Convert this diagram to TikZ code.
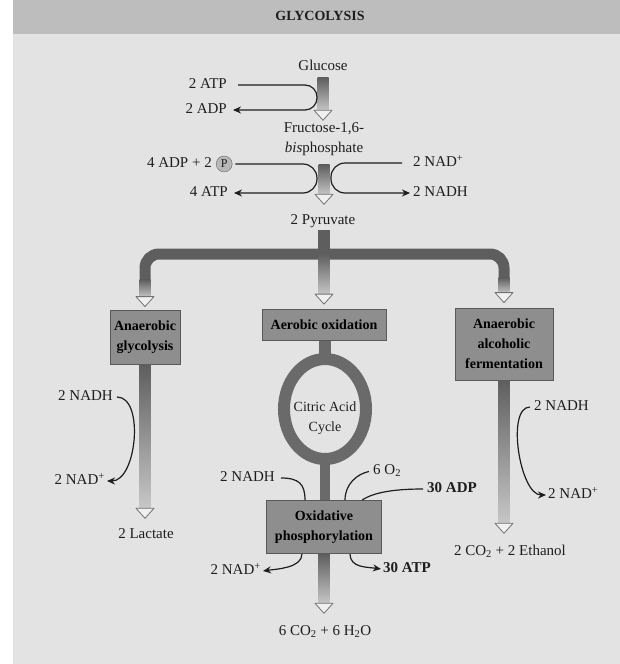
\documentclass[tikz,border=0pt]{standalone}
\usepackage{fontspec}
\setmainfont{Liberation Serif}
\usepackage{tikz,xcolor}
\usetikzlibrary{arrows.meta,positioning,calc}
\definecolor{bgGray}{HTML}{E3E3E3}
\definecolor{bandGray}{HTML}{BDBDBD}
\definecolor{barDark}{HTML}{5E5E5E}
\definecolor{barLight}{HTML}{C8C8C8}
\definecolor{boxGray}{HTML}{8E8E8E}
\definecolor{ringGray}{HTML}{6A6A6A}
\definecolor{ink}{HTML}{1E1E1E}
\tikzstyle{txt} = [text=ink, inner sep=2pt, font=\fontsize{15}{20}\selectfont]
\tikzstyle{lbl} = [txt, text height=10pt, text depth=3pt]
\tikzstyle{stage} = [draw=black!65, fill=boxGray, line width=0.8pt, text=black, align=center, inner sep=2pt, font=\fontsize{14}{20}\selectfont\bfseries]
\tikzstyle{react} = [draw=ink, line width=1.2pt, -{Stealth[length=8pt,width=7pt]}]
\tikzstyle{branch} = [draw=barDark, line width=11pt, rounded corners=14pt]
\tikzstyle{headline} = [draw=black!55, fill=black!6, line width=0.8pt, line join=round]
% shaded pathway arrow from #1 down to the tip #2
\newcommand{\flowbar}[2]{%
  \path #1 coordinate (fa) #2 coordinate (fb);
  \shade[top color=barDark, bottom color=barLight] ($(fa)+(-5.5,0)$) rectangle ($(fa|-fb)+(5.5,-9)$);
  \draw[headline] ($(fa|-fb)+(-9,-10)$) -- (fa|-fb) -- ($(fa|-fb)+(9,-10)$) -- cycle;
}

\begin{document}
\begin{tikzpicture}[x=1pt,y=-1pt]
    \useasboundingbox (0,0) rectangle (620,664);
    \fill[white] (0,0) rectangle (620,664);
    \fill[bgGray] (13,0) rectangle (620,664);
    \fill[bandGray] (13,0) rectangle (620,34);

    % create the nodes
    \node (title)[txt, font=\fontsize{14}{20}\selectfont\bfseries] at (320,16) {GLYCOLYSIS};
    \node (glu)[lbl] at (323,67) {Glucose};
    \node (atp)[lbl, anchor=east] at (229,85) {2 ATP};
    \node (adp)[lbl, anchor=east] at (229,110) {2 ADP};
    \node (fru)[txt, align=center] at (324,139) {Fructose-1,6-\\\textit{bis}phosphate};
    \node (adpp)[lbl, anchor=east] at (214,164) {4 ADP + 2};
    \node (phos)[right = 2pt of adpp, circle, draw=black!60, fill=black!28, inner sep=0pt, minimum size=16pt, text=ink, font=\fontsize{12}{12}\selectfont] {P};
    \node (atp4)[lbl, anchor=east] at (230,193) {4 ATP};
    \node (nadp)[lbl, anchor=west] at (411,163) {2 NAD\textsuperscript{+}};
    \node (nadh)[lbl, anchor=west] at (411,193) {2 NADH};
    \node (pyr)[lbl] at (323,221) {2 Pyruvate};
    \coordinate (fork) at (324,254);

    \node (gly)[stage, minimum width=70pt, minimum height=54pt] at (145,337) {Anaerobic\\glycolysis};
    \node (aer)[stage, minimum width=124pt, minimum height=31pt] at (324,325) {Aerobic oxidation};
    \node (fer)[stage, minimum width=98pt, minimum height=72pt] at (504,344) {Anaerobic\\alcoholic\\fermentation};
    \node (tca)[txt, align=center, font=\fontsize{14}{20}\selectfont] at (325,418) {Citric Acid\\Cycle};
    \node (ox)[stage, minimum width=115pt, minimum height=53pt] at (324,527) {Oxidative\\phosphorylation};

    \node (nadhL)[lbl, anchor=east] at (115,397) {2 NADH};
    \node (nadL)[lbl, anchor=east] at (107,481) {2 NAD\textsuperscript{+}};
    \node (lac)[lbl] at (146,535) {2 Lactate};
    \node (nadhR)[lbl, anchor=west] at (532,407) {2 NADH};
    \node (nadR)[lbl, anchor=west] at (546,495) {2 NAD\textsuperscript{+}};
    \node (eth)[lbl] at (510,552) {2 CO\textsubscript{2} + 2 Ethanol};
    \node (nadhM)[lbl, anchor=east] at (277,478) {2 NADH};
    \node (o2)[lbl, anchor=west] at (371,471) {6 O\textsubscript{2}};
    \node (adp30)[lbl, anchor=west] at (425,489) {\bfseries 30 ADP};
    \node (nadM)[lbl, anchor=east] at (263,571) {2 NAD\textsuperscript{+}};
    \node (atp30)[lbl, anchor=west] at (381,569) {\bfseries 30 ATP};
    \node (co2)[lbl] at (325,632) {6 CO\textsubscript{2} + 6 H\textsubscript{2}O};

    % main pathway
    \flowbar{($(glu.south)+(0,2)$)}{(fru.north)}
    \flowbar{($(fru.south)+(0,7)$)}{($(pyr.north)+(0,-8)$)}
    \fill[barDark] ($(pyr.south)+(-5.5,0)$) rectangle ($(fork)+(5.5,0)$);
    \draw[branch] ($(gly.north)+(0,-30)$) |- (fork) -| ($(fer.north)+(0,-30)$);
    \flowbar{($(gly.north)+(0,-30)$)}{($(gly.north)+(0,-3)$)}
    \flowbar{(fork)}{($(aer.north)+(0,-5)$)}
    \flowbar{($(fer.north)+(0,-30)$)}{($(fer.north)+(0,-5)$)}
    \flowbar{(gly.south)}{($(lac.north)+(0,-8)$)}
    \flowbar{(fer.south)}{($(eth.north)+(0,-10)$)}
    \fill[ringGray] ($(aer.south)+(-5.5,0)$) rectangle ($(tca)+(5.5,-59)$);
    \fill[ringGray] ($(tca)+(-5.5,41)$) rectangle ($(ox.north)+(5.5,0)$);
    \draw[ringGray, line width=12pt] ($(tca)+(0,-9)$) ellipse [x radius=41, y radius=50];
    \flowbar{(ox.south)}{($(co2.north)+(0,-10)$)}

    % connect the nodes
    \draw[react, shorten <=9pt, shorten >=4pt, rounded corners=12pt] (atp.east) -- ($(atp.east -| glu.south)+(-6,0)$) |- (adp.east);
    \draw[react, shorten <=3pt, shorten >=4pt, rounded corners=14pt] (phos.east) -- ($(phos.east -| fru.south)+(-7,0)$) |- (atp4.east);
    \draw[react, shorten <=9pt, shorten >=1pt, rounded corners=14pt] (nadp.west) -- ($(nadp.west -| fru.south)+(7,0)$) |- (nadh.west);
    \draw[react, shorten <=2pt] (nadhL.east) to[out=0, in=0, looseness=0.9] (nadL.east);
    \draw[react, shorten <=2pt] (nadhR.west) to[out=180, in=180, looseness=0.75] (nadR.west);
    \draw[react, -, shorten <=4pt] (nadhM.east) .. controls +(22,0) and +(0,-16) .. ($(ox.north)+(-19,0)$);
    \draw[react, -, shorten <=2pt] (o2.west) .. controls +(-14,3) and +(0,-16) .. ($(ox.north)+(21,0)$);
    \draw[react, -, shorten <=2pt] (adp30.west) .. controls +(-30,0) and +(12,-8) .. ($(ox.north)+(38,0)$);
    \draw[react] ($(ox.south)+(-22,0)$) .. controls +(0,14) and +(14,-2) .. (nadM.east);
    \draw[react] ($(ox.south)+(26,0)$) .. controls +(0,14) and +(-14,-2) .. (atp30.west);

\end{tikzpicture}
\end{document}
